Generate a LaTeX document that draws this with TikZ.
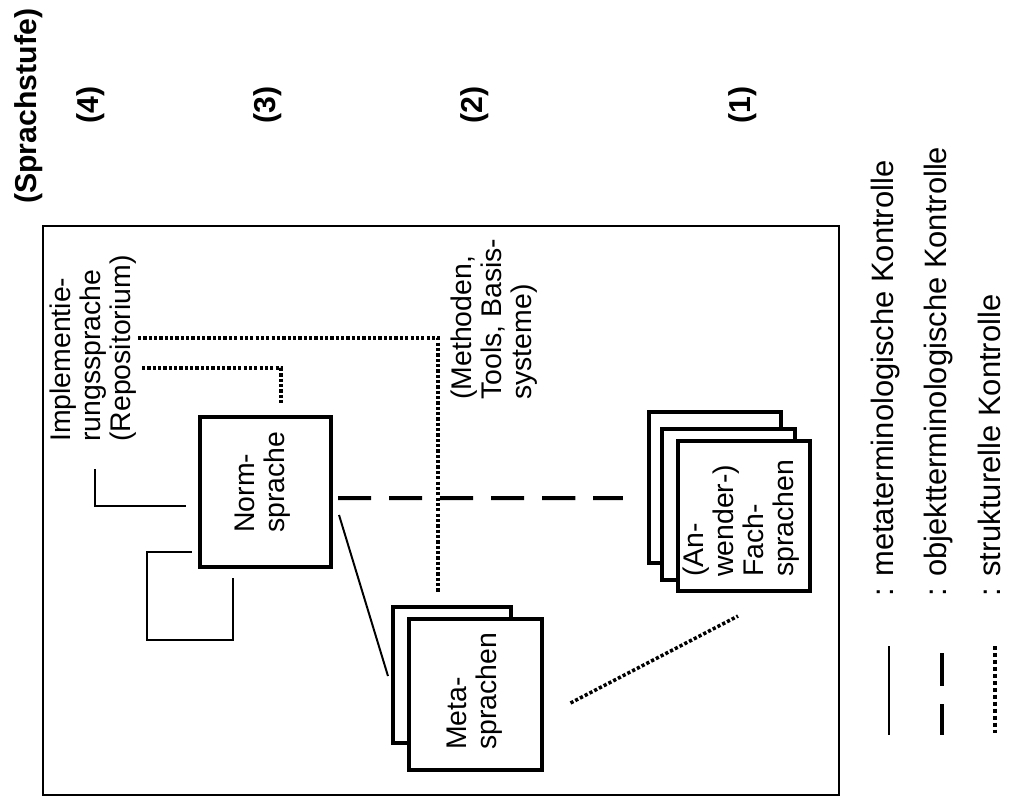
\documentclass[tikz,border=0pt]{standalone}
\usepackage{fontspec}
\setmainfont{Liberation Sans}
\usetikzlibrary{calc,positioning}
\tikzset{
  % language boxes
  langbox/.style={draw, line width=2.85pt, fill=white, minimum width=3.3cm,
    minimum height=3.75cm, inner sep=0pt},
  backbox/.style={langbox, minimum width=2.95cm, minimum height=3.4cm},
  % rotated texts
  lbl/.style={rotate=90, anchor=west, align=left, inner sep=0pt,
    font=\fontsize{20.2}{21.3}\selectfont},
  stufe/.style={rotate=90, inner sep=0pt, font=\bfseries\fontsize{21.5}{25}\selectfont},
  legtext/.style={rotate=90, anchor=base west, inner sep=0pt,
    font=\fontsize{22}{26}\selectfont},
  % the three kinds of control
  metaline/.style={line width=1.4pt},
  objline/.style={line width=2.85pt, dash pattern=on 23.5pt off 12.8pt},
  strukline/.style={line width=2.5pt, dash pattern=on 2.3pt off 1.5pt},
  frameln/.style={line width=1.4pt},
}

\begin{document}
\begin{tikzpicture}[x=0.025cm, y=-0.025cm]
  \useasboundingbox (0,0) rectangle (1009,810);

  % levels
  \node[stufe, anchor=base west] (stufe) at (36,204) {(Sprachstufe)};
  \node[stufe] (s4) at (91,105) {(4)};
  \node[stufe] (s3) at (268,105) {(3)};
  \node[stufe] (s2) at (475,105) {(2)};
  \node[stufe] (s1) at (743,105) {(1)};

  \draw[frameln] (43,226) rectangle (839,795);

  % languages
  \node[lbl] (impl) at (93,442) {Implementie-\\rungssprache\\(Repositorium)};
  \node[langbox, minimum width=3.275cm] (norm) at (265.5,492) {};
  \node[lbl] at (263,533) {Norm-\\sprache};
  \node[backbox] (metaback) at (452,675) {};
  \node[langbox] (meta) at (475.5,694.5) {};
  \node[lbl] at (475,750) {Meta-\\sprachen};
  \node[langbox] (fach1) at (715,487.5) {};
  \node[langbox] (fach2) at (728.5,504.5) {};
  \node[langbox] (fach3) at (744,516) {};
  \node[lbl] at (741,577) {(An-\\wender-)\\Fach-\\sprachen};
  \node[lbl] (tools) at (494,400) {(Methoden,\\Tools, Basis-\\systeme)};

  % connections
  \draw[objline] ($(norm.east)+(5,6)$) -- ($(fach1.west)+(-24,10.5)$);
  \draw[metaline] ($(norm.east)+(6,23)$) -- ($(metaback.west)+(-3,1)$);
  \draw[metaline] ($(impl.west)+(2,27)$) |- ($(norm.west)+(-12,14)$);
  \draw[metaline] ($(norm.west)+(-6,60)$) -- ++(-45,0) -- ++(0,88)
    -| ($(norm.south)+(-32.5,9)$);
  \draw[strukline] ($(impl.west)+(45,-104)$) -| ($(metaback.north)+(-14,-12)$);
  \draw[strukline] ($(impl.west)+(49,-74)$) -| ($(norm.north)+(15.5,-12)$);
  \draw[strukline] ($(meta.east)+(27,8.5)$) -- ($(fach3.south)+(-6,23)$);

  % legend
  \node[legtext] (leg1) at (893,597) {: metaterminologische Kontrolle};
  \node[legtext] (leg2) at (946,597) {: objektterminologische Kontrolle};
  \node[legtext] (leg3) at (1000,597) {: strukturelle Kontrolle};
  \draw[metaline, line width=2pt] ($(leg1.base west)+(-4,49)$) -- ++(0,89);
  \draw[objline] ($(leg2.base west)+(-4,56)$) -- ++(0,82);
  \draw[strukline, line width=2.85pt, dash pattern=on 2.85pt off 2.1pt]
    ($(leg3.base west)+(-5,49)$) -- ++(0,87);
\end{tikzpicture}
\end{document}
